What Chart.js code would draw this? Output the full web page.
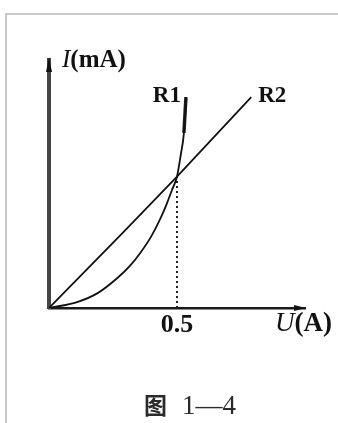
<!DOCTYPE html>
<html>
<head>
<meta charset="utf-8">
<script src="https://cdn.jsdelivr.net/npm/chart.js@4.4.0/dist/chart.umd.min.js"></script>
<style>
  html, body { margin: 0; padding: 0; background: #fff; }
  #wrap { position: relative; width: 338px; height: 423px; overflow: hidden; }
  #frame { position: absolute; left: 5px; top: 13px; right: -4px; bottom: -4px;
           border-top: 2px solid #c9c9c9; border-left: 2px solid #c9c9c9; }
  #ivChart { position: absolute; left: 0; top: 0; }
</style>
</head>
<body>
<div id="wrap">
  <div id="frame"></div>
  <canvas id="ivChart" width="338" height="423"></canvas>
</div>
<script>
// I-U curves of the two resistors
const r1U = [0, 0.11, 0.19, 0.266, 0.316, 0.355, 0.40, 0.435, 0.46, 0.48, 0.5, 0.515, 0.527, 0.535];
const r1I = [0, 0.24, 0.6, 1.2, 1.7, 2.2, 2.9, 3.6, 4.2, 4.75, 5.3, 6.2, 7.06, 8.5];
const r2U = [0, 0.285, 0.5, 0.79];
const r2I = [0, 3.0, 5.3, 8.5];
const crossU = 0.5;
const crossI = 5.3;
const uTicks = [0.5];

const pts = (xs, ys) => xs.map((x, i) => ({ x: x, y: ys[i] }));

// R1 is drawn heavier above this current
const r1Heavy = pts(r1U, r1I).filter(p => p.y >= 7);

const serif = '"Liberation Serif", "DejaVu Serif", serif';

// axis arrows, curve names, axis titles and caption
const labelsPlugin = {
    id: 'ivLabels',
    afterDraw(chart) {
        const ctx = chart.ctx;
        const area = chart.chartArea;
        const xs = chart.scales.x, ys = chart.scales.y;
        ctx.save();
        ctx.fillStyle = '#111';

        // y arrow
        ctx.beginPath();
        ctx.moveTo(area.left, area.top - 3);
        ctx.lineTo(area.left - 3, area.top + 12);
        ctx.lineTo(area.left + 3, area.top + 12);
        ctx.closePath();
        ctx.fill();
        // x arrow
        ctx.beginPath();
        ctx.moveTo(area.right + 1, area.bottom);
        ctx.lineTo(area.right - 11, area.bottom - 3);
        ctx.lineTo(area.right - 11, area.bottom + 3);
        ctx.closePath();
        ctx.fill();

        const run = (parts, x, y) => {
            parts.forEach(([text, font]) => {
                ctx.font = font;
                ctx.fillText(text, x, y);
                x += ctx.measureText(text).width;
            });
        };
        ctx.textBaseline = 'alphabetic';
        ctx.textAlign = 'left';

        run([['I', 'italic 25px ' + serif], ['(mA)', 'bold 25px ' + serif]], area.left + 13, 67);
        run([['U', 'italic 27px ' + serif], ['(A)', 'bold 27px ' + serif]], area.right - 30, 331);

        // curve names next to the line ends
        const r1End = r1Heavy[r1Heavy.length - 1];
        const r2End = { x: r2U[r2U.length - 1], y: r2I[r2I.length - 1] };
        ctx.font = 'bold 23px ' + serif;
        ctx.textAlign = 'right';
        ctx.fillText('R1', xs.getPixelForValue(r1End.x) - 5, ys.getPixelForValue(r1End.y) + 5);
        ctx.textAlign = 'left';
        ctx.fillText('R2', xs.getPixelForValue(r2End.x) + 7, ys.getPixelForValue(r2End.y) + 5);

        // caption
        ctx.fillStyle = '#2a2a2a';
        run([['图', 'bold 23px "Noto Sans CJK SC", sans-serif']], 144, 414);
        run([['1—4', '27px ' + serif]], 182, 414);
        ctx.restore();
    }
};

new Chart(document.getElementById('ivChart'), {
    type: 'line',
    data: {
        datasets: [
            {
                label: 'R1',
                data: pts(r1U, r1I),
                borderColor: '#111',
                borderWidth: 1.8,
                cubicInterpolationMode: 'monotone',
                pointRadius: 0
            },
            {
                label: 'R1 upper',
                data: r1Heavy,
                borderColor: '#222',
                borderWidth: 3.5,
                pointRadius: 0
            },
            {
                label: 'R2',
                data: pts(r2U, r2I),
                borderColor: '#111',
                borderWidth: 1.8,
                pointRadius: 0
            },
            {
                label: 'U = 0.5',
                data: [{ x: crossU, y: 0 }, { x: crossU, y: crossI }],
                borderColor: '#222',
                borderWidth: 2,
                borderDash: [2, 3],
                pointRadius: 0
            }
        ]
    },
    options: {
        responsive: false,
        animation: false,
        devicePixelRatio: 1,
        layout: { padding: { top: 60, right: 33, left: 0, bottom: 0 } },
        plugins: {
            legend: { display: false },
            tooltip: { enabled: false }
        },
        scales: {
            x: {
                type: 'linear',
                min: 0,
                max: 1,
                afterBuildTicks(scale) {
                    scale.ticks = uTicks.map(v => ({ value: v }));
                },
                afterFit(scale) { scale.height = 115; },
                grid: { drawOnChartArea: false, drawTicks: false },
                border: { color: '#1a1a1a', width: 2.5 },
                ticks: {
                    padding: 2,
                    color: '#111',
                    font: { family: serif, size: 26, weight: 'bold' },
                    callback: v => String(v)
                }
            },
            y: {
                min: 0,
                max: 10,
                afterFit(scale) { scale.width = 49; },
                grid: { drawOnChartArea: false, drawTicks: false },
                border: { color: '#444', width: 4 },
                ticks: { display: false }
            }
        }
    },
    plugins: [labelsPlugin]
});
</script>
</body>
</html>
